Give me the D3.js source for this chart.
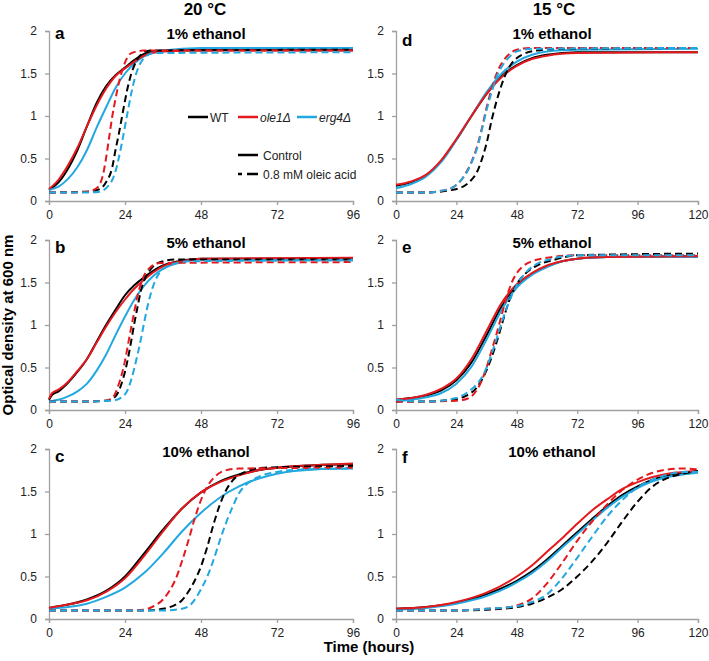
<!DOCTYPE html>
<html><head><meta charset="utf-8">
<script src="https://cdn.jsdelivr.net/npm/d3@7"></script>
<style>body{margin:0;background:#fff}svg{display:block;font-family:"Liberation Sans",Arial,sans-serif}</style>
</head><body><svg id="c" width="709" height="661"></svg>
<script>
// ---------- data: [time (h), OD600] ----------
const colTitles = ["20 °C", "15 °C"];
const panelLetters = ["a", "b", "c", "d", "e", "f"];
const panelTitles = ["1% ethanol", "5% ethanol", "10% ethanol", "1% ethanol", "5% ethanol", "10% ethanol"];
const xTicks20 = [0, 24, 48, 72, 96];
const xTicks15 = [0, 24, 48, 72, 96, 120];
const yTicks = [0, 0.5, 1, 1.5, 2];
const strains = ["WT", "ole1Δ", "erg4Δ"];
const conditions = ["Control", "0.8 mM oleic acid"];

// panel a (20 °C, 1% ethanol)
const aWT = [[0,.13],[3,.22],[6,.38],[9,.6],[12,.88],[15,1.15],[18,1.35],[21,1.48],[24,1.57],[27,1.66],[30,1.73],[36,1.77],[48,1.78],[96,1.78]];
const aOle = [[0,.14],[3,.25],[6,.42],[9,.63],[12,.88],[15,1.12],[18,1.32],[21,1.47],[24,1.56],[27,1.64],[30,1.71],[36,1.76],[48,1.77],[96,1.77]];
const aErg = [[0,.13],[3,.17],[6,.26],[9,.4],[12,.6],[15,.86],[18,1.1],[21,1.33],[24,1.5],[27,1.62],[30,1.7],[36,1.77],[48,1.8],[96,1.8]];
const aWTo = [[0,.1],[12,.11],[16,.14],[18,.22],[20,.4],[21,.6],[22,.78],[23,.98],[24,1.18],[25,1.36],[26,1.5],[27,1.6],[29,1.72],[32,1.77],[96,1.78]];
const aOleo = [[0,.1],[6,.1],[12,.11],[15,.15],[17,.3],[18,.5],[19,.75],[20,1.0],[21,1.2],[22,1.38],[23,1.52],[24,1.63],[26,1.74],[30,1.77],[96,1.77]];
const aErgo = [[0,.1],[12,.1],[16,.11],[18,.15],[20,.25],[21,.35],[22,.5],[23,.68],[24,.88],[25,1.08],[26,1.27],[27,1.43],[28,1.55],[30,1.68],[33,1.74],[96,1.75]];

// panel b (20 °C, 5% ethanol)
const bWT = [[0,.12],[1,.18],[3,.22],[6,.32],[9,.45],[12,.6],[15,.8],[18,1.0],[21,1.18],[24,1.35],[27,1.47],[30,1.56],[33,1.64],[36,1.7],[42,1.76],[48,1.78],[96,1.78]];
const bOle = [[0,.13],[1,.2],[3,.24],[6,.33],[9,.46],[12,.6],[15,.79],[18,.98],[21,1.15],[24,1.3],[27,1.43],[30,1.53],[33,1.62],[36,1.69],[42,1.75],[48,1.78],[96,1.79]];
const bErg = [[0,.1],[3,.12],[6,.16],[9,.22],[12,.31],[15,.46],[18,.65],[21,.88],[24,1.1],[27,1.3],[30,1.46],[33,1.58],[36,1.66],[42,1.74],[48,1.77],[96,1.77]];
const bWTo = [[0,.1],[12,.1],[18,.11],[20,.13],[22,.22],[23,.32],[24,.45],[25,.62],[26,.82],[27,1.03],[28,1.22],[29,1.4],[30,1.52],[32,1.65],[35,1.74],[40,1.77],[96,1.77]];
const bOleo = [[0,.1],[12,.1],[18,.11],[20,.14],[22,.3],[23,.42],[24,.58],[25,.78],[26,.98],[27,1.17],[28,1.35],[29,1.48],[30,1.58],[32,1.68],[35,1.73],[96,1.74]];
const bErgo = [[0,.1],[12,.1],[20,.11],[23,.15],[25,.25],[26,.36],[27,.5],[28,.66],[29,.83],[30,1.02],[31,1.2],[32,1.35],[33,1.47],[35,1.62],[38,1.7],[44,1.75],[96,1.76]];

// panel c (20 °C, 10% ethanol)
const cWT = [[0,.13],[3,.15],[6,.17],[12,.23],[18,.33],[24,.5],[30,.77],[36,1.05],[42,1.3],[48,1.49],[54,1.62],[60,1.7],[66,1.75],[72,1.78],[84,1.81],[96,1.82]];
const cOle = [[0,.13],[3,.15],[6,.17],[12,.22],[18,.32],[24,.48],[30,.74],[36,1.03],[42,1.3],[48,1.49],[54,1.61],[60,1.69],[66,1.75],[72,1.78],[84,1.81],[96,1.83]];
const cErg = [[0,.12],[6,.14],[12,.18],[18,.26],[24,.37],[30,.54],[36,.77],[42,1.03],[48,1.25],[54,1.43],[60,1.56],[66,1.65],[72,1.71],[84,1.76],[96,1.77]];
const cWTo = [[0,.1],[30,.1],[36,.12],[40,.17],[42,.22],[44,.32],[46,.45],[48,.62],[50,.85],[52,1.12],[54,1.35],[56,1.52],[58,1.63],[62,1.73],[68,1.78],[96,1.8]];
const cOleo = [[0,.1],[24,.1],[30,.11],[33,.15],[36,.23],[38,.33],[40,.47],[42,.68],[44,.92],[46,1.18],[48,1.4],[50,1.56],[52,1.66],[55,1.74],[60,1.77],[96,1.78]];
const cErgo = [[0,.1],[36,.1],[42,.12],[45,.18],[48,.35],[50,.5],[52,.7],[54,.93],[56,1.14],[58,1.32],[60,1.48],[62,1.57],[66,1.67],[72,1.73],[80,1.76],[96,1.77]];

// panel d (15 °C, 1% ethanol)
const dWT = [[0,.18],[6,.22],[12,.3],[18,.47],[24,.72],[30,1.0],[36,1.26],[42,1.47],[48,1.6],[54,1.68],[60,1.72],[72,1.75],[120,1.75]];
const dOle = [[0,.19],[6,.23],[12,.31],[18,.48],[24,.73],[30,1.0],[36,1.26],[42,1.46],[48,1.59],[54,1.67],[60,1.71],[72,1.74],[120,1.75]];
const dErg = [[0,.15],[6,.2],[12,.29],[18,.46],[24,.72],[30,1.0],[36,1.28],[42,1.5],[48,1.64],[54,1.72],[60,1.76],[72,1.78],[120,1.79]];
const dWTo = [[0,.1],[12,.1],[20,.12],[26,.16],[30,.25],[32,.33],[34,.48],[36,.68],[38,.95],[40,1.18],[42,1.37],[44,1.52],[46,1.62],[50,1.72],[56,1.77],[64,1.79],[120,1.8]];
const dOleo = [[0,.1],[12,.1],[18,.12],[22,.15],[26,.25],[28,.34],[30,.46],[32,.62],[34,.84],[36,1.1],[38,1.32],[40,1.5],[42,1.62],[44,1.7],[48,1.78],[54,1.8],[120,1.8]];
const dErgo = [[0,.1],[12,.1],[18,.12],[22,.15],[26,.25],[28,.33],[30,.45],[32,.6],[34,.82],[36,1.07],[38,1.28],[40,1.46],[42,1.58],[44,1.66],[48,1.76],[54,1.79],[120,1.8]];

// panel e (15 °C, 5% ethanol)
const eWT = [[0,.12],[6,.14],[12,.17],[18,.23],[24,.35],[30,.56],[36,.88],[42,1.22],[48,1.46],[54,1.6],[60,1.69],[66,1.75],[72,1.78],[84,1.8],[120,1.81]];
const eOle = [[0,.12],[6,.14],[12,.18],[18,.25],[24,.37],[30,.6],[36,.93],[42,1.26],[48,1.48],[54,1.61],[60,1.7],[66,1.75],[72,1.78],[84,1.8],[120,1.81]];
const eErg = [[0,.1],[6,.12],[12,.15],[18,.2],[24,.31],[30,.51],[36,.83],[42,1.18],[48,1.44],[54,1.59],[60,1.68],[66,1.75],[72,1.78],[84,1.8],[120,1.8]];
const eWTo = [[0,.1],[12,.1],[24,.13],[28,.17],[32,.26],[34,.35],[36,.47],[38,.62],[40,.8],[42,1.0],[44,1.2],[46,1.36],[48,1.48],[52,1.62],[56,1.7],[62,1.76],[72,1.82],[120,1.84]];
const eOleo = [[0,.1],[12,.1],[24,.11],[28,.13],[30,.16],[32,.23],[34,.34],[36,.5],[38,.7],[40,.9],[42,1.12],[44,1.33],[46,1.5],[48,1.61],[50,1.68],[54,1.75],[60,1.79],[72,1.82],[120,1.82]];
const eErgo = [[0,.12],[12,.1],[24,.14],[28,.2],[32,.3],[34,.38],[36,.5],[38,.66],[40,.84],[42,1.03],[44,1.2],[46,1.35],[48,1.47],[52,1.63],[56,1.72],[62,1.78],[72,1.82],[120,1.82]];

// panel f (15 °C, 10% ethanol)
const fWT = [[0,.12],[12,.14],[24,.19],[36,.29],[48,.45],[54,.56],[60,.7],[66,.86],[72,1.02],[78,1.18],[84,1.33],[90,1.46],[96,1.56],[102,1.64],[108,1.69],[114,1.72],[120,1.74]];
const fOle = [[0,.12],[12,.14],[24,.2],[36,.31],[48,.5],[54,.63],[60,.79],[66,.95],[72,1.12],[78,1.28],[84,1.41],[90,1.53],[96,1.61],[102,1.67],[108,1.71],[114,1.73],[120,1.74]];
const fErg = [[0,.11],[12,.13],[24,.18],[36,.27],[48,.43],[54,.54],[60,.68],[66,.84],[72,1.0],[78,1.16],[84,1.31],[90,1.44],[96,1.54],[102,1.62],[108,1.67],[114,1.7],[120,1.72]];
const fWTo = [[0,.1],[24,.1],[36,.11],[48,.14],[54,.18],[60,.25],[66,.35],[72,.5],[78,.68],[84,.9],[90,1.15],[96,1.38],[102,1.56],[108,1.66],[114,1.71],[120,1.74]];
const fOleo = [[0,.1],[24,.1],[36,.12],[42,.13],[48,.16],[54,.24],[60,.42],[66,.66],[72,.92],[78,1.15],[84,1.35],[90,1.52],[96,1.64],[102,1.72],[108,1.76],[114,1.77],[120,1.76]];
const fErgo = [[0,.1],[24,.1],[36,.12],[48,.15],[54,.2],[60,.29],[66,.48],[72,.72],[78,.97],[84,1.21],[90,1.4],[96,1.55],[102,1.64],[108,1.7],[114,1.73],[120,1.73]];

// ---------- layout ----------
const colors = {WT: "#000000", "ole1Δ": "#e3191e", "erg4Δ": "#22a8e0"};
const cols = [{x0: 49, x1: 353, xmax: 96, ticks: xTicks20}, {x0: 396, x1: 698, xmax: 120, ticks: xTicks15}];
const rows = [{y0: 31, y1: 201}, {y0: 240, y1: 410}, {y0: 449, y1: 619}];
const letterY = [39, 253, 462, 46, 253, 463];
const panelData = [
  [aWT, aOle, aErg, aWTo, aOleo, aErgo],
  [bWT, bOle, bErg, bWTo, bOleo, bErgo],
  [cWT, cOle, cErg, cWTo, cOleo, cErgo],
  [dWT, dOle, dErg, dWTo, dOleo, dErgo],
  [eWT, eOle, eErg, eWTo, eOleo, eErgo],
  [fWT, fOle, fErg, fWTo, fOleo, fErgo]
];
const axisCol = "#a0a0a0";
const svg = d3.select("#c");

panelData.forEach((series, i) => {
  const col = cols[Math.floor(i / 3)], row = rows[i % 3];
  const x = d3.scaleLinear().domain([0, col.xmax]).range([col.x0, col.x1]);
  const y = d3.scaleLinear().domain([0, 2]).range([row.y1, row.y0]);
  const g = svg.append("g");

  const xa = g.append("g").attr("transform", `translate(0,${row.y1})`)
    .call(d3.axisBottom(x).tickValues(col.ticks).tickSize(4).tickPadding(5).tickFormat(d3.format("d")));
  const ya = g.append("g").attr("transform", `translate(${col.x0},0)`)
    .call(d3.axisLeft(y).tickValues(yTicks).tickSize(4).tickPadding(8).tickFormat(d => d));
  [xa, ya].forEach(a => {
    a.selectAll("path.domain").attr("stroke", axisCol).attr("stroke-width", 1.3);
    a.selectAll(".tick line").attr("stroke", axisCol).attr("stroke-width", 1.3);
    a.selectAll(".tick text").attr("fill", "#222").style("font-size", "12px").style("font-family", "Liberation Sans, Arial, sans-serif");
  });

  const line = d3.line().x(d => x(d[0])).y(d => y(d[1])).curve(d3.curveMonotoneX);
  const order = [0, 2, 1, 3, 4, 5];
  order.forEach(k => {
    const strain = strains[k % 3];
    g.append("path").datum(series[k])
      .attr("d", line).attr("fill", "none")
      .attr("stroke", colors[strain]).attr("stroke-width", 2)
      .attr("stroke-dasharray", k >= 3 ? "7,4" : null);
  });

  g.append("text").attr("x", (col.x0 + col.x1) / 2 + 5).attr("y", row.y0 + 8)
    .attr("text-anchor", "middle").attr("font-weight", "bold").attr("font-size", 15)
    .text(panelTitles[i]);
  g.append("text").attr("x", col.x0 + 6).attr("y", letterY[i])
    .attr("font-weight", "bold").attr("font-size", 17).text(panelLetters[i]);
});

// column titles
colTitles.forEach((t, j) => {
  svg.append("text").attr("x", j === 0 ? 205 : 554).attr("y", 15)
    .attr("text-anchor", "middle").attr("font-weight", "bold").attr("font-size", 17).text(t);
});

// axis titles
svg.append("text").attr("x", 369).attr("y", 652).attr("text-anchor", "middle")
  .attr("font-weight", "bold").attr("font-size", 15).text("Time (hours)");
svg.append("text").attr("transform", "translate(13,325) rotate(-90)").attr("text-anchor", "middle")
  .attr("font-weight", "bold").attr("font-size", 15).text("Optical density at 600 nm");

// legend (inside panel a)
const lg = svg.append("g");
const strainLegX = [188, 238, 297];
strains.forEach((s, k) => {
  lg.append("line").attr("x1", strainLegX[k]).attr("x2", strainLegX[k] + 20).attr("y1", 117).attr("y2", 117)
    .attr("stroke", colors[s]).attr("stroke-width", 2.5);
  lg.append("text").attr("x", strainLegX[k] + 22).attr("y", 121.5).attr("font-size", 12)
    .attr("font-style", k === 0 ? "normal" : "italic").attr("fill", "#222").text(s);
});
conditions.forEach((c, k) => {
  const yy = 155 + k * 19;
  lg.append("line").attr("x1", 238).attr("x2", 258).attr("y1", yy).attr("y2", yy)
    .attr("stroke", "#000").attr("stroke-width", 2.5).attr("stroke-dasharray", k ? "4,5,11,30" : null);
  lg.append("text").attr("x", 263).attr("y", yy + 4.5).attr("font-size", 12).attr("fill", "#222").text(c);
});
</script></body></html>
